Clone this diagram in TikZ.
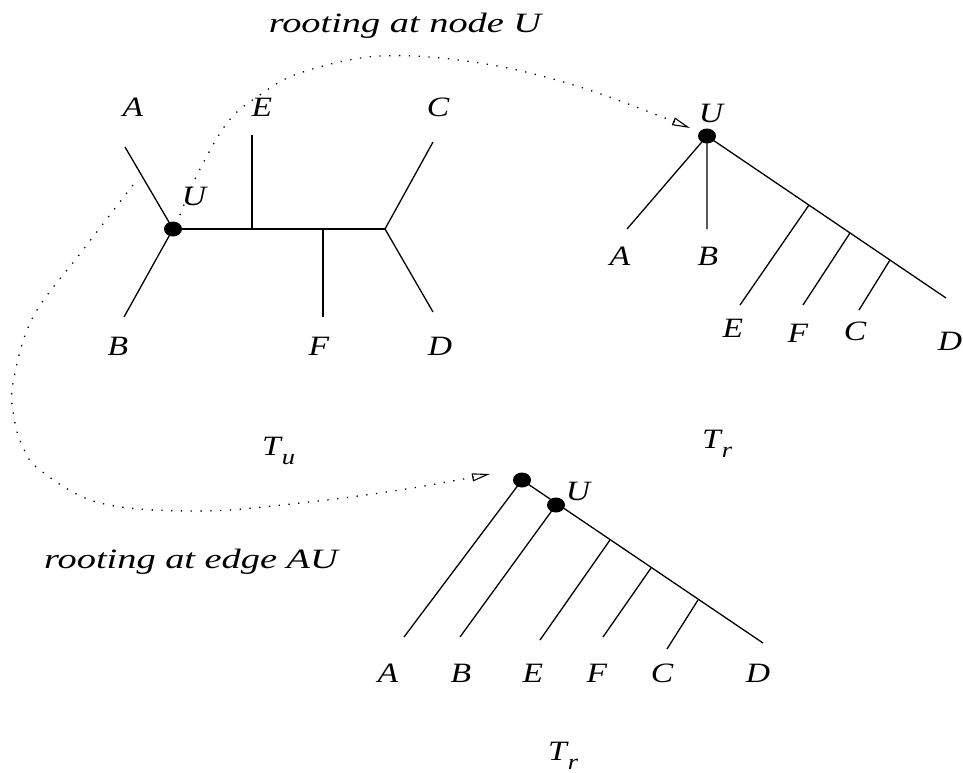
\documentclass[tikz,border=0pt]{standalone}
\usepackage{fontspec}
\setmainfont{Liberation Serif}
\usetikzlibrary{arrows.meta,shapes.geometric}
\newcommand{\wlab}[1]{\scalebox{1.2}[1]{#1}}
\newcommand{\wcap}[1]{\scalebox{1.37}[1]{#1}}
\newcommand{\tsub}[2]{\wlab{#1}\kern1pt\raisebox{-9pt}{\fontsize{22}{24}\selectfont\wlab{#2}}}
\begin{document}
\begin{tikzpicture}[x=1pt,y=-1pt,
  edge/.style={line width=1.3pt},
  dot/.style={ellipse,fill=black,inner sep=0pt,minimum width=18pt,minimum height=15pt},
  lab/.style={font=\fontsize{28}{32}\selectfont\itshape,inner sep=0pt,anchor=base},
  trail/.style={line width=1.3pt,dash pattern=on 1.3pt off 8.5pt,-{Triangle[open,length=18pt,width=8pt,line width=1.1pt]}}]
\useasboundingbox (0,0) rectangle (963,773);
% ---- unrooted tree T_u ----
\node[dot] (u) at (173,229) {};
\coordinate (la) at (125,147);
\coordinate (lb) at (124,317);
\coordinate (ie) at (252,229);
\coordinate (if) at (323,229);
\coordinate (icd) at (385,229);
\coordinate (le) at (252,135);
\coordinate (lf) at (323,317);
\coordinate (lc) at (433,142);
\coordinate (ld) at (433,312);
\draw[edge] (la) -- (u.center) -- (lb);
\draw[edge] (u.center) -- (icd);
\draw[edge] (ie) -- (le);
\draw[edge] (if) -- (lf);
\draw[edge] (lc) -- (icd) -- (ld);
\node[lab] (tA) at (133,117) {\wlab{A}};
\node[lab] (tE) at (262,117) {\wlab{E}};
\node[lab] (tC) at (438,117) {\wlab{C}};
\node[lab] (tU) at (194,205) {\wlab{U}};
\node[lab] (tB) at (118,355) {\wlab{B}};
\node[lab] (tF) at (319,355) {\wlab{F}};
\node[lab] (tD) at (440,355) {\wlab{D}};
\node[lab,anchor=base west] (Tu) at (262,455) {\tsub{T}{u}};
% ---- rooted at node U ----
\node[dot] (r) at (707,136) {};
\coordinate (ra) at (627,229);
\coordinate (rb) at (707,229);
\coordinate (rd) at (946,298);
\coordinate (re1) at (809,205);
\coordinate (rf1) at (850,233);
\coordinate (rc1) at (890,260);
\coordinate (re) at (740,305);
\coordinate (rf) at (803,305);
\coordinate (rc) at (859,310);
\draw[edge] (ra) -- (r.center) -- (rb);
\draw[edge] (r.center) -- (rd);
\draw[edge] (re1) -- (re);
\draw[edge] (rf1) -- (rf);
\draw[edge] (rc1) -- (rc);
\node[lab] (sU) at (711,122) {\wlab{U}};
\node[lab] (sA) at (620,265) {\wlab{A}};
\node[lab] (sB) at (708,265) {\wlab{B}};
\node[lab] (sE) at (733,337) {\wlab{E}};
\node[lab] (sF) at (798,342) {\wlab{F}};
\node[lab] (sC) at (855,340) {\wlab{C}};
\node[lab] (sD) at (950,350) {\wlab{D}};
\node[lab,anchor=base west] (Tr1) at (702,448) {\tsub{T}{r}};
% ---- rooted at edge AU ----
\node[dot] (q) at (522,480) {};
\node[dot] (qu) at (556,505) {};
\coordinate (qa) at (404,637);
\coordinate (qb) at (460,637);
\coordinate (qd) at (763,643);
\coordinate (qe1) at (610,540);
\coordinate (qf1) at (651,568);
\coordinate (qc1) at (698,600);
\coordinate (qe) at (540,640);
\coordinate (qf) at (603,637);
\coordinate (qc) at (667,649);
\draw[edge] (qa) -- (q.center) -- (qd);
\draw[edge] (qu.center) -- (qb);
\draw[edge] (qe1) -- (qe);
\draw[edge] (qf1) -- (qf);
\draw[edge] (qc1) -- (qc);
\node[lab] (pU) at (578,500) {\wlab{U}};
\node[lab] (pA) at (388,682) {\wlab{A}};
\node[lab] (pB) at (461,682) {\wlab{B}};
\node[lab] (pE) at (533,682) {\wlab{E}};
\node[lab] (pF) at (597,682) {\wlab{F}};
\node[lab] (pC) at (662,682) {\wlab{C}};
\node[lab] (pD) at (758,682) {\wlab{D}};
\node[lab,anchor=base west] (Tr2) at (548,760) {\tsub{T}{r}};
% ---- captions and dotted arrows ----
\node[lab] (cap1) at (405,33) {\wcap{rooting at node U}};
\node[lab] (cap2) at (191,568) {\wcap{rooting at edge AU}};
\coordinate (s1) at (180,215);
\coordinate (e1) at (690,128);
\draw[trail] plot[smooth,tension=0.6] coordinates {(s1) (197,175) (227,123) (257,97) (300,73) (380,56) (480,63) (580,87) (e1)};
\coordinate (s2) at (133,185);
\coordinate (e2) at (490,474);
\draw[trail] plot[smooth,tension=0.6] coordinates {(s2) (83,250) (33,317) (13,383) (14,417) (22,445) (40,470) (100,503) (200,511) (300,503) (400,490) (e2)};
\end{tikzpicture}
\end{document}
